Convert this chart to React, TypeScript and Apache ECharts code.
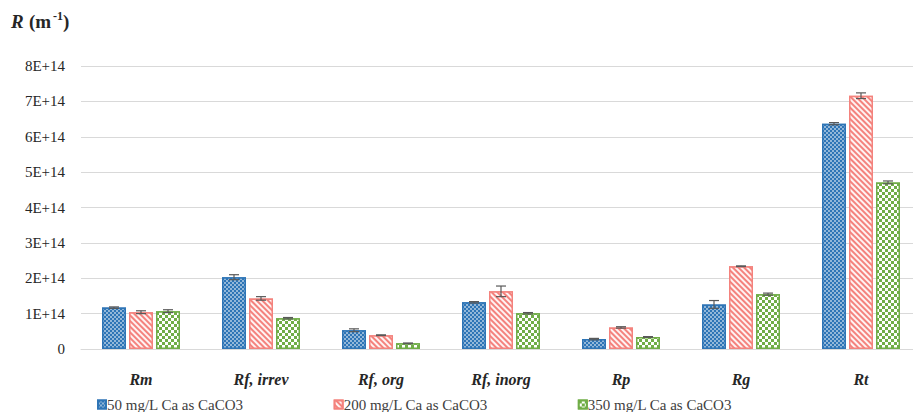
import React, { useEffect, useRef } from "react";
import * as echarts from "echarts";

const categories = ["Rm", "Rf, irrev", "Rf, org", "Rf, inorg", "Rp", "Rg", "Rt"];
const seriesNames = ["50 mg/L Ca as CaCO3", "200 mg/L Ca as CaCO3", "350 mg/L Ca as CaCO3"];
const values50 = [1.17e14, 2.03e14, 0.53e14, 1.32e14, 0.28e14, 1.26e14, 6.37e14];
const values200 = [1.04e14, 1.43e14, 0.39e14, 1.63e14, 0.61e14, 2.34e14, 7.16e14];
const values350 = [1.07e14, 0.87e14, 0.16e14, 1.01e14, 0.34e14, 1.55e14, 4.71e14];
const err50 = [0.02e14, 0.07e14, 0.04e14, 0.02e14, 0.02e14, 0.11e14, 0.03e14];
const err200 = [0.04e14, 0.05e14, 0.01e14, 0.15e14, 0.02e14, 0.01e14, 0.08e14];
const err350 = [0.04e14, 0.02e14, 0.01e14, 0.02e14, 0.01e14, 0.03e14, 0.04e14];
const yTicks = ["0", "1E+14", "2E+14", "3E+14", "4E+14", "5E+14", "6E+14", "7E+14", "8E+14"];

const SERIF = "Liberation Serif";

function forceSerif(root: HTMLElement | null) {
  if (!root) return;
  root.querySelectorAll("text, tspan").forEach((t: any) => {
    t.style.fontFamily = '"Liberation Serif", "Times New Roman", serif';
    t.setAttribute("font-family", "Liberation Serif, Times New Roman, serif");
  });
}

export default function App() {
  const ref = useRef<HTMLDivElement>(null);
  useEffect(() => {
    if (!ref.current) return;
    const chart = echarts.init(ref.current, undefined, { renderer: "svg" });
    const colors = ["#2E75B6", "#F4827D", "#70AD47"];
    const decals: any[] = [
      {
        symbol: "rect",
        symbolSize: 0.8,
        color: "rgba(255,255,255,0.8)",
        dashArrayX: [[2, 2], [0, 2, 2, 0]],
        dashArrayY: [2, 0],
        rotation: 0,
      },
      {
        symbol: "rect",
        symbolSize: 1,
        color: "rgba(255,255,255,0.9)",
        dashArrayX: [1, 0],
        dashArrayY: [2, 2],
        rotation: Math.PI / 4,
      },
      {
        symbol: "rect",
        symbolSize: 1,
        color: "#ffffff",
        dashArrayX: [[3, 3], [0, 3, 3, 0]],
        dashArrayY: [3, 0],
        rotation: 0,
      },
    ];
    const vals = [values50, values200, values350];
    const errs = [err50, err200, err350];
    const barW = 24;
    const step = 27;
    const barSeries = vals.map((v, i) => ({
      name: seriesNames[i],
      type: "bar",
      data: v,
      barWidth: barW,
      barGap: "12.5%",
      itemStyle: {
        color: colors[i],
        borderColor: colors[i],
        borderWidth: 1.5,
        decal: decals[i],
      },
    }));
    const errSeries = vals.map((v, i) => ({
      type: "custom",
      name: "err" + i,
      data: v.map((val, j) => [j, val, errs[i][j]]),
      z: 5,
      silent: true,
      renderItem: (params: any, api: any) => {
        const idx = api.value(0);
        const val = api.value(1);
        const e = api.value(2);
        const x = api.coord([idx, val])[0] + (i - 1) * step;
        const top = api.coord([idx, val + e])[1];
        const bot = api.coord([idx, val - e])[1];
        const style = { stroke: "#595959", lineWidth: 1.2 };
        return {
          type: "group",
          children: [
            { type: "line", shape: { x1: x, y1: top, x2: x, y2: bot }, style },
            { type: "line", shape: { x1: x - 5, y1: top, x2: x + 5, y2: top }, style },
            { type: "line", shape: { x1: x - 5, y1: bot, x2: x + 5, y2: bot }, style },
          ],
        };
      },
    }));
    chart.on("finished", () => forceSerif(ref.current));
    chart.setOption({
      animation: false,
      aria: { enabled: false, decal: { show: true } },
      grid: { left: 81, width: 850, top: 66, bottom: 71, containLabel: false },
      legend: {
        data: seriesNames,
        bottom: 3,
        left: 92,
        itemGap: 90,
        itemWidth: 8,
        itemHeight: 8,
        icon: "rect",
        textStyle: { fontFamily: SERIF, fontSize: 15, color: "#404040", padding: [0, 0, 0, -4] },
      },
      xAxis: {
        type: "category",
        data: categories,
        axisLine: { show: true, lineStyle: { color: "#D9D9D9" } },
        axisTick: { show: false },
        axisLabel: {
          fontFamily: SERIF,
          fontSize: 16,
          fontWeight: "bold",
          fontStyle: "italic",
          color: "#262626",
          margin: 22,
        },
      },
      yAxis: {
        type: "value",
        min: 0,
        max: 8e14,
        interval: 1e14,
        axisLine: { show: false },
        axisTick: { show: false },
        splitLine: { lineStyle: { color: "#D9D9D9", width: 1 } },
        axisLabel: {
          fontFamily: SERIF,
          fontSize: 15,
          color: "#262626",
          margin: 16,
          formatter: (v: number) => yTicks[Math.round(v / 1e14)],
        },
      },
      graphic: [
        { type: "text", left: 11, top: 12, style: { text: "R", fontFamily: SERIF, fontStyle: "italic", fontWeight: "bold", fontSize: 19, fill: "#262626" } },
        { type: "text", left: 29, top: 12, style: { text: "(m", fontFamily: SERIF, fontWeight: "bold", fontSize: 19, fill: "#262626" } },
        { type: "text", left: 53, top: 10, style: { text: "-1", fontFamily: SERIF, fontWeight: "bold", fontSize: 12, fill: "#262626" } },
        { type: "text", left: 63, top: 12, style: { text: ")", fontFamily: SERIF, fontWeight: "bold", fontSize: 19, fill: "#262626" } },
      ],
      series: [...barSeries, ...errSeries],
    });
    forceSerif(ref.current);
    return () => chart.dispose();
  }, []);
  return (
    <div style={{ margin: "-8px" }}>
      <div ref={ref} style={{ width: 921, height: 420 }} />
    </div>
  );
}
